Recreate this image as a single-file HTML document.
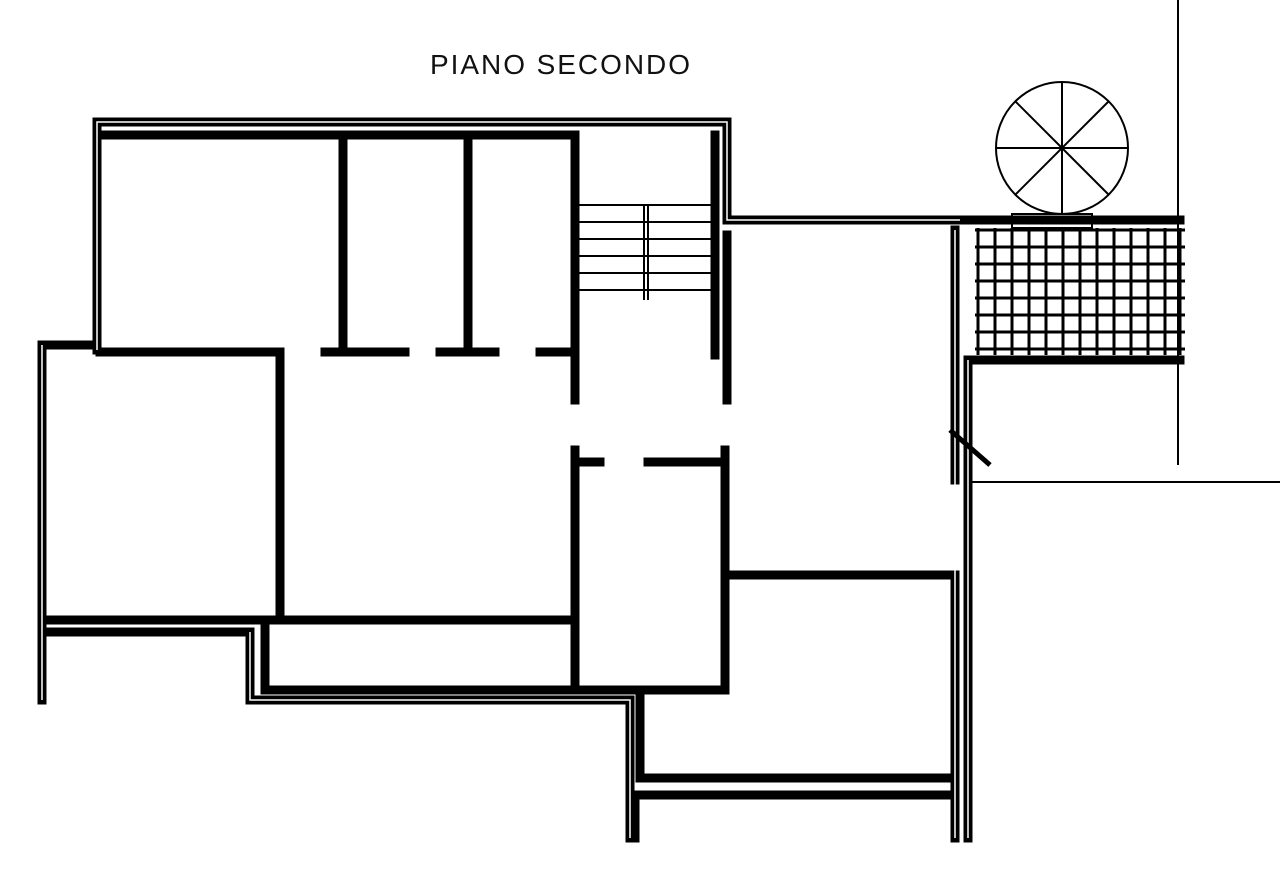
<!DOCTYPE html>
<html><head><meta charset="utf-8"><style>
html,body{margin:0;padding:0;background:#fff;}
svg{display:block}
</style></head><body>
<svg width="1280" height="888" viewBox="0 0 1280 888" xmlns="http://www.w3.org/2000/svg">
<text x="560" y="74" font-family="Liberation Sans, sans-serif" font-size="28" text-anchor="middle" fill="#111" textLength="260">PIANO SECONDO</text>
<g fill="none" stroke="#000" stroke-width="9" stroke-linecap="square">
<path d="M97,350 L97,122 L727,122 L727,220 L960,220 L1180,220"/>
<path d="M97,345 L42,345 L42,700"/>
<path d="M100,352 L280,352 L280,615"/>
<path d="M105,135 L570,135"/>
<path d="M45,620 L570,620"/>
<path d="M45,632 L250,632 L250,700 L630,700 L630,838"/>
<path d="M265,626 L265,690 L725,690 L725,450"/>
<path d="M575,135 L575,400"/>
<path d="M575,450 L575,685"/>
<path d="M715,135 L715,355"/>
<path d="M727,235 L727,400"/>
<path d="M730,575 L952,575"/>
<path d="M640,690 L640,778 L955,778"/>
<path d="M635,838 L635,795 L955,795"/>
<path d="M955,230 L955,480"/>
<path d="M955,575 L955,838"/>
<path d="M968,360 L968,838"/>
<path d="M968,360 L1180,360"/>
<path d="M343,135 L343,352"/>
<path d="M468,135 L468,352"/>
<path d="M325,352 L405,352 M440,352 L495,352 M540,352 L568,352"/>
<path d="M575,462 L600,462 M648,462 L720,462"/>
</g>
<g fill="none" stroke="#fff" stroke-width="1.5">
<path d="M97,350 L97,122 L727,122 L727,220 L960,220"/>
<path d="M42,345 L42,700"/>
<path d="M250,632 L250,700 L630,700 L630,838"/>
<path d="M955,230 L955,838"/>
<path d="M968,360 L968,838"/>
</g>
<g stroke="#000" stroke-width="2">
<line x1="578" y1="205" x2="712" y2="205"/><line x1="578" y1="222" x2="712" y2="222"/>
<line x1="578" y1="239" x2="712" y2="239"/><line x1="578" y1="256" x2="712" y2="256"/>
<line x1="578" y1="273" x2="712" y2="273"/><line x1="578" y1="290" x2="712" y2="290"/>
<line x1="644" y1="205" x2="644" y2="300"/><line x1="648" y1="205" x2="648" y2="300"/>
<line x1="1178" y1="0" x2="1178" y2="465"/>
<line x1="970" y1="482" x2="1280" y2="482"/>
</g>
<g stroke="#000" stroke-width="2" fill="none">
<circle cx="1062" cy="148" r="66"/>
<line x1="996" y1="148" x2="1128" y2="148"/><line x1="1062" y1="82" x2="1062" y2="214"/>
<line x1="1015" y1="101" x2="1109" y2="195"/><line x1="1109" y1="101" x2="1015" y2="195"/>
<rect x="1012" y="214" width="80" height="14"/>
</g>
<g stroke="#000" stroke-width="3">
<line x1="975" y1="230" x2="1185" y2="230"/><line x1="975" y1="247" x2="1185" y2="247"/>
<line x1="975" y1="264" x2="1185" y2="264"/><line x1="975" y1="281" x2="1185" y2="281"/>
<line x1="975" y1="298" x2="1185" y2="298"/><line x1="975" y1="315" x2="1185" y2="315"/>
<line x1="975" y1="332" x2="1185" y2="332"/><line x1="975" y1="349" x2="1185" y2="349"/>
<line x1="978" y1="228" x2="978" y2="355"/><line x1="995" y1="228" x2="995" y2="355"/>
<line x1="1012" y1="228" x2="1012" y2="355"/><line x1="1029" y1="228" x2="1029" y2="355"/>
<line x1="1046" y1="228" x2="1046" y2="355"/><line x1="1063" y1="228" x2="1063" y2="355"/>
<line x1="1080" y1="228" x2="1080" y2="355"/><line x1="1097" y1="228" x2="1097" y2="355"/>
<line x1="1114" y1="228" x2="1114" y2="355"/><line x1="1131" y1="228" x2="1131" y2="355"/>
<line x1="1148" y1="228" x2="1148" y2="355"/><line x1="1165" y1="228" x2="1165" y2="355"/>
<line x1="1180" y1="228" x2="1180" y2="355"/>
<line x1="950" y1="430" x2="990" y2="465" stroke-width="5"/>
</g>
</svg>
</body></html>
